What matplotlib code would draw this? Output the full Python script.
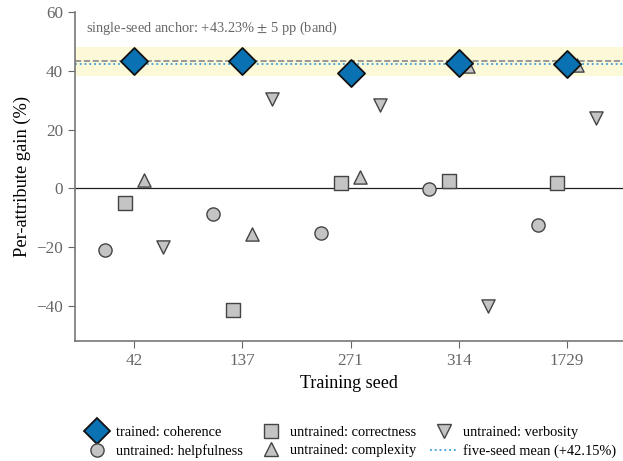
import numpy as np
import matplotlib.pyplot as plt
from matplotlib.lines import Line2D

plt.rcParams['font.family'] = ['Liberation Serif', 'DejaVu Serif']
plt.rcParams['mathtext.fontset'] = 'stix'

# Per-attribute gain (%) for each training seed
seeds = ['42', '137', '271', '314', '1729']
coherence = [43.23, 43.4, 39.4, 42.5, 42.22]
helpfulness = [-21.1, -8.9, -15.2, -0.2, -12.5]
correctness = [-5.0, -41.3, 1.7, 2.4, 1.8]
complexity = [3.0, -15.5, 3.7, 41.5, 42.0]
verbosity = [-20.0, 30.3, 28.3, -40.0, 23.8]

anchor = 43.23
band = 5.0
five_seed_mean = np.mean(coherence)

x = np.arange(len(seeds))
gray = '#c4c4c4'
edge = '#444444'

fig = plt.figure(figsize=(6.23, 4.61), dpi=100)
ax = fig.add_axes([0.12, 0.26, 0.88, 0.714])

ax.axhspan(anchor - band, anchor + band, color='#f0e442', alpha=0.2, lw=0, zorder=0)
ax.axhline(anchor, color='#888888', ls='--', lw=1.2, zorder=1)
ax.axhline(five_seed_mean, color='#3a9fd8', ls=':', lw=1.3, zorder=1)
ax.axhline(0, color='#222222', lw=0.9, zorder=1)

ax.scatter(x - 0.27, helpfulness, marker='o', s=90, c=gray, edgecolors=edge, lw=1.0, zorder=3)
ax.scatter(x - 0.09, correctness, marker='s', s=90, c=gray, edgecolors=edge, lw=1.0, zorder=3)
ax.scatter(x + 0.09, complexity, marker='^', s=90, c=gray, edgecolors=edge, lw=1.0, zorder=3)
ax.scatter(x + 0.27, verbosity, marker='v', s=90, c=gray, edgecolors=edge, lw=1.0, zorder=3)
ax.scatter(x, coherence, marker='D', s=190, c='#0a72b2', edgecolors='#111111', lw=1.3, zorder=4)

ax.text(-0.45, 54.3, 'single-seed anchor: +43.23% $\\pm$ 5 pp (band)',
        fontsize=10.4, color='#666666', va='center')

ax.set_xlim(-0.55, 4.52)
ax.set_ylim(-52, 60)
ax.set_xticks(x)
ax.set_xticklabels(seeds)
ax.set_yticks([-40, -20, 0, 20, 40, 60])
ax.set_xlabel('Training seed', fontsize=13)
ax.set_ylabel('Per-attribute gain (%)', fontsize=13.3)
ax.tick_params(labelsize=12.3, colors='#666666', labelcolor='#666666', length=5)
for s in ['top', 'right']:
    ax.spines[s].set_visible(False)
for s in ['left', 'bottom']:
    ax.spines[s].set_color('#777777')
    ax.spines[s].set_linewidth(1.2)

handles = [
    Line2D([], [], ls='none', marker='D', ms=13, mfc='#0a72b2', mec='#111111', mew=1.3, label='trained: coherence'),
    Line2D([], [], ls='none', marker='o', ms=9.5, mfc=gray, mec=edge, label='untrained: helpfulness'),
    Line2D([], [], ls='none', marker='s', ms=9.5, mfc=gray, mec=edge, label='untrained: correctness'),
    Line2D([], [], ls='none', marker='^', ms=9.5, mfc=gray, mec=edge, label='untrained: complexity'),
    Line2D([], [], ls='none', marker='v', ms=9.5, mfc=gray, mec=edge, label='untrained: verbosity'),
    Line2D([], [], ls=':', color='#3a9fd8', lw=1.3, label='five-seed mean (+42.15%)'),
]
fig.legend(handles=handles, loc='lower center', bbox_to_anchor=(0.561, -0.022), ncol=3,
           frameon=False, fontsize=10.4, handlelength=1.9, columnspacing=1.0,
           handletextpad=0.35, labelspacing=0.35)

fig.savefig('out.png', dpi=100)
